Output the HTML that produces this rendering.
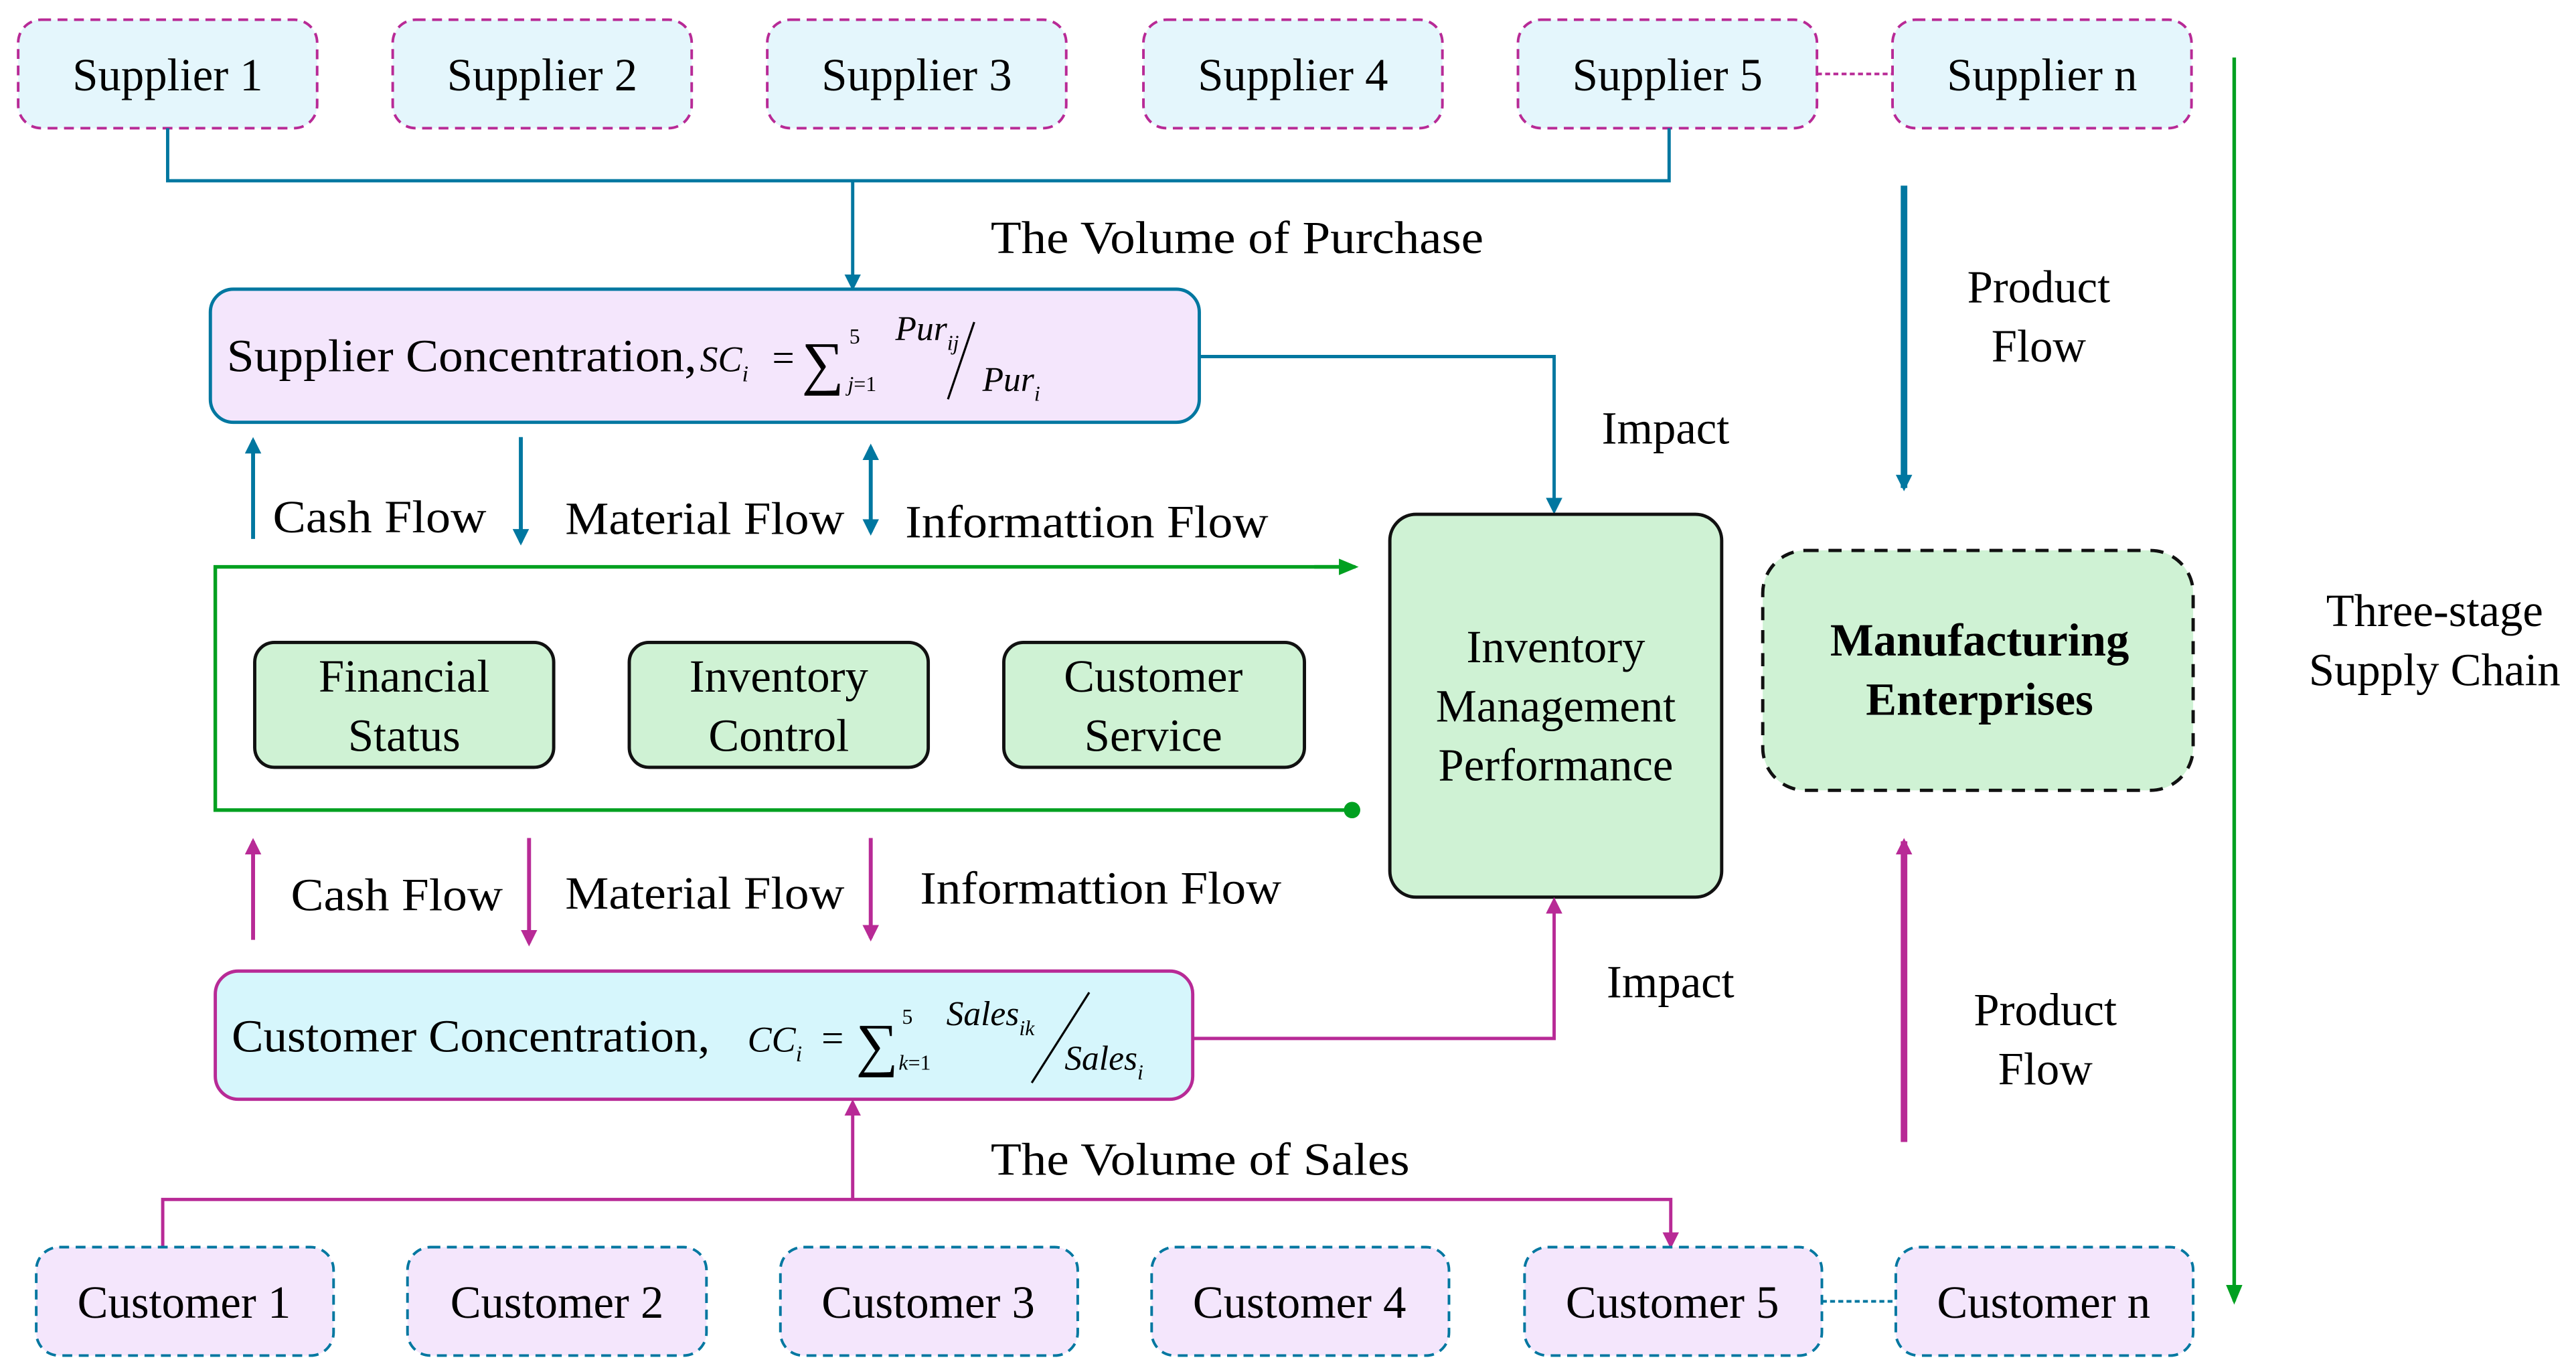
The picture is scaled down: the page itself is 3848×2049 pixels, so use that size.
<!DOCTYPE html>
<html><head><meta charset="utf-8"><style>
html,body{margin:0;padding:0;background:#fff;}
svg{display:block;}
text{font-family:"Liberation Serif","Times New Roman",serif;fill:#000;}
</style></head><body>
<svg width="3848" height="2049" viewBox="0 0 1568 835" xmlns="http://www.w3.org/2000/svg">
<defs>
<marker id="ab" markerWidth="10" markerHeight="10" refX="8" refY="5" orient="auto" markerUnits="userSpaceOnUse"><path d="M0,0 L10,5 L0,10 z" fill="#0077a0"/></marker>
<marker id="ap" markerWidth="10" markerHeight="10" refX="8" refY="5" orient="auto" markerUnits="userSpaceOnUse"><path d="M0,0 L10,5 L0,10 z" fill="#b82a96"/></marker>
<marker id="ag" markerWidth="12" markerHeight="10" refX="10" refY="5" orient="auto" markerUnits="userSpaceOnUse"><path d="M0,0 L12,5 L0,10 z" fill="#00a020"/></marker>
<marker id="abs" markerWidth="10" markerHeight="10" refX="2" refY="5" orient="auto" markerUnits="userSpaceOnUse"><path d="M10,0 L0,5 L10,10 z" fill="#0077a0"/></marker>
</defs>

<g fill="#e4f6fc" stroke="#b82a96" stroke-width="1.6" stroke-dasharray="6,4">
<rect x="11" y="12" width="182" height="66" rx="14"/>
<rect x="239" y="12" width="182" height="66" rx="14"/>
<rect x="467" y="12" width="182" height="66" rx="14"/>
<rect x="696" y="12" width="182" height="66" rx="14"/>
<rect x="924" y="12" width="182" height="66" rx="14"/>
<rect x="1152" y="12" width="182" height="66" rx="14"/>
</g>
<line x1="1106" y1="45" x2="1152" y2="45" stroke="#b82a96" stroke-width="1.6" stroke-dasharray="3,2"/>
<g font-size="28" text-anchor="middle">
<text x="102" y="55">Supplier 1</text>
<text x="330" y="55">Supplier 2</text>
<text x="558" y="55">Supplier 3</text>
<text x="787" y="55">Supplier 4</text>
<text x="1015" y="55">Supplier 5</text>
<text x="1243" y="55">Supplier n</text>
</g>
<polyline points="102,78 102,110 1016,110 1016,78" fill="none" stroke="#0077a0" stroke-width="2"/>
<line x1="519" y1="110" x2="519" y2="175" stroke="#0077a0" stroke-width="2" marker-end="url(#ab)"/>
<text x="603" y="154" font-size="28" textLength="300" lengthAdjust="spacingAndGlyphs">The Volume of Purchase</text>

<rect x="128" y="176" width="602" height="81" rx="14" fill="#f4e6fc" stroke="#0077a0" stroke-width="2"/>
<text x="138" y="226" font-size="28" textLength="286" lengthAdjust="spacingAndGlyphs">Supplier Concentration,</text>
<text x="426" y="226" font-size="22" font-style="italic">SC<tspan font-size="14" dy="6">i</tspan></text>
<text x="470" y="226" font-size="24">=</text>
<text x="488" y="233" font-size="36">∑</text>
<text x="517" y="209" font-size="13">5</text>
<text x="516" y="238" font-size="13"><tspan font-style="italic">j</tspan>=1</text>
<text x="545" y="207" font-size="21" font-style="italic">Pur<tspan font-size="13" dy="6">ij</tspan></text>
<line x1="577" y1="243" x2="593" y2="196" stroke="#000" stroke-width="1.3"/>
<text x="598" y="238" font-size="21" font-style="italic">Pur<tspan font-size="13" dy="6">i</tspan></text>

<polyline points="730,217 946,217 946,311" fill="none" stroke="#0077a0" stroke-width="2" marker-end="url(#ab)"/>
<text x="975" y="270" font-size="28">Impact</text>

<line x1="154" y1="328" x2="154" y2="268" stroke="#0077a0" stroke-width="2.4" marker-end="url(#ab)"/>
<line x1="317" y1="266" x2="317" y2="330" stroke="#0077a0" stroke-width="2.4" marker-end="url(#ab)"/>
<line x1="530" y1="272" x2="530" y2="324" stroke="#0077a0" stroke-width="2.4" marker-end="url(#ab)" marker-start="url(#abs)"/>
<g font-size="28">
<text x="166" y="324" textLength="130" lengthAdjust="spacingAndGlyphs">Cash Flow</text>
<text x="344" y="325" textLength="170" lengthAdjust="spacingAndGlyphs">Material Flow</text>
<text x="551" y="327" textLength="221" lengthAdjust="spacingAndGlyphs">Informattion Flow</text>
</g>

<polyline points="822,345 131,345 131,493 822,493" fill="none" stroke="#00a020" stroke-width="2.2"/>
<line x1="800" y1="345" x2="825" y2="345" stroke="#00a020" stroke-width="2.2" marker-end="url(#ag)"/>
<circle cx="823" cy="493" r="5" fill="#00a020"/>

<g fill="#cff2d4" stroke="#111" stroke-width="2">
<rect x="155" y="391" width="182" height="76" rx="12"/>
<rect x="383" y="391" width="182" height="76" rx="12"/>
<rect x="611" y="391" width="183" height="76" rx="12"/>
<rect x="846" y="313" width="202" height="233" rx="16"/>
</g>
<g font-size="28" text-anchor="middle">
<text x="246" y="421">Financial</text><text x="246" y="457">Status</text>
<text x="474" y="421">Inventory</text><text x="474" y="457">Control</text>
<text x="702" y="421">Customer</text><text x="702" y="457">Service</text>
<text x="947" y="403">Inventory</text><text x="947" y="439">Management</text><text x="947" y="475">Performance</text>
</g>

<rect x="1073" y="335" width="262" height="146" rx="26" fill="#cff2d4" stroke="#111" stroke-width="2" stroke-dasharray="8,6"/>
<g font-size="28" font-weight="bold" text-anchor="middle">
<text x="1205" y="399">Manufacturing</text>
<text x="1205" y="435">Enterprises</text>
</g>

<line x1="1159" y1="113" x2="1159" y2="297" stroke="#0077a0" stroke-width="4" marker-end="url(#ab)"/>
<g font-size="28" text-anchor="middle">
<text x="1241" y="184">Product</text><text x="1241" y="220">Flow</text>
<text x="1245" y="624">Product</text><text x="1245" y="660">Flow</text>
<text x="1482" y="381">Three-stage</text><text x="1482" y="417">Supply Chain</text>
</g>
<line x1="1159" y1="695" x2="1159" y2="512" stroke="#b82a96" stroke-width="4" marker-end="url(#ap)"/>
<line x1="1360" y1="35" x2="1360" y2="792" stroke="#00a020" stroke-width="2.2" marker-end="url(#ag)"/>

<line x1="154" y1="572" x2="154" y2="512" stroke="#b82a96" stroke-width="2.4" marker-end="url(#ap)"/>
<line x1="322" y1="510" x2="322" y2="574" stroke="#b82a96" stroke-width="2.4" marker-end="url(#ap)"/>
<line x1="530" y1="510" x2="530" y2="571" stroke="#b82a96" stroke-width="2.4" marker-end="url(#ap)"/>
<g font-size="28">
<text x="177" y="554" textLength="129" lengthAdjust="spacingAndGlyphs">Cash Flow</text>
<text x="344" y="553" textLength="170" lengthAdjust="spacingAndGlyphs">Material Flow</text>
<text x="560" y="550" textLength="220" lengthAdjust="spacingAndGlyphs">Informattion Flow</text>
</g>

<rect x="131" y="591" width="595" height="78" rx="14" fill="#d6f6fc" stroke="#b82a96" stroke-width="2"/>
<text x="141" y="640" font-size="28" textLength="291" lengthAdjust="spacingAndGlyphs">Customer Concentration,</text>
<text x="455" y="640" font-size="22" font-style="italic">CC<tspan font-size="14" dy="6">i</tspan></text>
<text x="500" y="640" font-size="24">=</text>
<text x="521" y="648" font-size="36">∑</text>
<text x="549" y="623" font-size="13">5</text>
<text x="547" y="651" font-size="13"><tspan font-style="italic">k</tspan>=1</text>
<text x="576" y="624" font-size="21" font-style="italic">Sales<tspan font-size="13" dy="6">ik</tspan></text>
<line x1="628" y1="659" x2="663" y2="604" stroke="#000" stroke-width="1.3"/>
<text x="648" y="651" font-size="21" font-style="italic">Sales<tspan font-size="13" dy="6">i</tspan></text>

<polyline points="726,632 946,632 946,548" fill="none" stroke="#b82a96" stroke-width="2" marker-end="url(#ap)"/>
<text x="978" y="607" font-size="28">Impact</text>

<line x1="519" y1="730" x2="519" y2="671" stroke="#b82a96" stroke-width="2" marker-end="url(#ap)"/>
<polyline points="99,760 99,730 1017,730 1017,758" fill="none" stroke="#b82a96" stroke-width="2" marker-end="url(#ap)"/>
<text x="603" y="715" font-size="28" textLength="255" lengthAdjust="spacingAndGlyphs">The Volume of Sales</text>

<g fill="#f4e6fc" stroke="#0077a0" stroke-width="1.6" stroke-dasharray="6,4">
<rect x="22" y="759" width="181" height="66" rx="14"/>
<rect x="248" y="759" width="182" height="66" rx="14"/>
<rect x="475" y="759" width="181" height="66" rx="14"/>
<rect x="701" y="759" width="181" height="66" rx="14"/>
<rect x="928" y="759" width="181" height="66" rx="14"/>
<rect x="1154" y="759" width="181" height="66" rx="14"/>
</g>
<line x1="1109" y1="792" x2="1154" y2="792" stroke="#0077a0" stroke-width="1.6" stroke-dasharray="3,2"/>
<g font-size="28" text-anchor="middle">
<text x="112" y="802">Customer 1</text>
<text x="339" y="802">Customer 2</text>
<text x="565" y="802">Customer 3</text>
<text x="791" y="802">Customer 4</text>
<text x="1018" y="802">Customer 5</text>
<text x="1244" y="802">Customer n</text>
</g>
</svg>
</body></html>
